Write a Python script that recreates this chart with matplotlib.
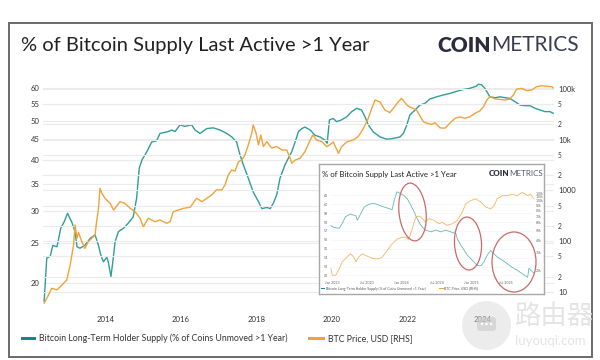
import matplotlib
matplotlib.use('Agg')
import matplotlib.pyplot as plt
from matplotlib.patches import Rectangle, Ellipse, Circle, FancyBboxPatch
from matplotlib.ticker import NullLocator
import matplotlib.transforms as mtrans

plt.rcParams['font.family'] = ['Lato', 'DejaVu Sans']

# ---------------- main chart data ----------------
lth_dates = [2012.38, 2012.45, 2012.54, 2012.61, 2012.72, 2012.82, 2012.91, 2013.00, 2013.11, 2013.20,
             2013.25, 2013.33, 2013.46, 2013.60, 2013.73, 2013.82, 2013.88, 2013.95, 2014.04, 2014.08,
             2014.15, 2014.20, 2014.26, 2014.35, 2014.48, 2014.61, 2014.74, 2014.83, 2014.90, 2014.97,
             2015.10, 2015.23, 2015.36, 2015.45, 2015.67, 2015.76,
             2015.85, 2015.98, 2016.11, 2016.29, 2016.38, 2016.51, 2016.69, 2016.86, 2017.04, 2017.22,
             2017.35, 2017.48, 2017.57, 2017.66, 2017.79, 2017.92, 2018.06, 2018.15, 2018.28, 2018.37,
             2018.45, 2018.54, 2018.63, 2018.76, 2018.85, 2018.94, 2019.03, 2019.12, 2019.21,
             2019.29, 2019.43, 2019.56, 2019.69, 2019.82, 2019.88, 2019.94, 2020.04, 2020.13, 2020.26,
             2020.40, 2020.53, 2020.66, 2020.79, 2020.88, 2020.97, 2021.10, 2021.28, 2021.46, 2021.63,
             2021.81, 2021.90, 2021.99, 2022.07, 2022.21, 2022.34, 2022.47, 2022.60,
             2022.78, 2022.96, 2023.13, 2023.31, 2023.49, 2023.66, 2023.84, 2023.88, 2023.97, 2024.06,
             2024.19, 2024.33, 2024.46, 2024.59, 2024.72, 2024.86, 2024.99, 2025.12, 2025.25, 2025.39,
             2025.52, 2025.65, 2025.78, 2025.87]
lth_values = [18.0, 23.0, 23.2, 24.7, 24.5, 27.2, 28.2, 29.6, 28.2, 26.7,
              24.5, 24.3, 24.7, 25.7, 26.2, 24.7, 23.4, 22.5, 23.1, 22.5,
              20.7, 22.5, 25.2, 26.7, 27.2, 28.0, 29.0, 32.2, 38.2, 40.0,
              41.9, 44.3, 44.6, 46.5, 47.0, 47.4,
              47.0, 48.8, 48.4, 48.8, 47.4, 46.5, 47.8, 48.0, 47.4, 46.5,
              45.6, 44.3, 41.2, 38.9, 36.1, 33.4, 31.6, 30.4, 30.6, 30.4,
              31.3, 32.8, 36.1, 38.9, 40.4, 41.9, 44.3, 47.0, 47.8,
              48.2, 47.4, 46.0, 45.6, 44.8, 44.0, 50.2, 50.6, 49.7, 50.2,
              51.1, 52.6, 53.6, 53.1, 51.1, 48.8, 46.9, 45.6, 45.0, 45.2,
              45.6, 46.5, 48.8, 51.6, 53.1, 54.6, 55.1, 56.5,
              57.2, 57.8, 58.3, 59.0, 59.6, 60.0, 60.8, 61.4, 61.2, 60.0,
              57.2, 56.9, 57.2, 56.9, 56.7, 55.6, 54.6, 54.4, 54.4, 53.6,
              53.1, 52.6, 52.6, 52.1]

price_dates = [2012.38, 2012.45, 2012.58, 2012.72, 2012.85, 2012.98, 2013.07, 2013.16, 2013.20, 2013.25,
               2013.29, 2013.38, 2013.46, 2013.55, 2013.64, 2013.73, 2013.77, 2013.82, 2013.86, 2013.91,
               2013.99, 2014.13, 2014.22, 2014.39, 2014.52, 2014.66, 2014.79, 2014.92, 2015.01, 2015.14,
               2015.32, 2015.45, 2015.63, 2015.72, 2015.80,
               2015.89, 2016.07, 2016.25, 2016.42, 2016.56, 2016.69, 2016.82, 2016.95, 2017.09, 2017.17,
               2017.26, 2017.35, 2017.44, 2017.53, 2017.62, 2017.70, 2017.79, 2017.88, 2017.92, 2017.99,
               2018.06, 2018.12, 2018.19, 2018.28, 2018.41, 2018.54, 2018.68, 2018.81, 2018.90, 2018.94,
               2019.03, 2019.16,
               2019.29, 2019.43, 2019.50, 2019.60, 2019.74, 2019.87, 2019.96, 2020.04, 2020.18, 2020.26,
               2020.40, 2020.57, 2020.70, 2020.84, 2020.97, 2021.06, 2021.15, 2021.28, 2021.41, 2021.54,
               2021.63, 2021.76, 2021.85, 2021.99, 2022.07, 2022.25, 2022.43, 2022.52, 2022.65, 2022.74,
               2022.87, 2023.00, 2023.13, 2023.27, 2023.40, 2023.53, 2023.66, 2023.80, 2023.93, 2024.02,
               2024.11, 2024.19, 2024.33, 2024.46, 2024.59, 2024.72, 2024.81, 2024.90, 2025.03, 2025.17,
               2025.30, 2025.43, 2025.56, 2025.70, 2025.83, 2025.87]
price_values = [6.0, 7.5, 11.8, 11.0, 13.7, 17.2, 34, 84, 208, 114,
                148, 98, 72, 98, 114, 132, 242, 444, 1098, 877,
                700, 557, 410, 600, 557, 444, 381, 283, 193, 283,
                242, 262, 225, 242, 381,
                400, 444, 465, 700, 600, 700, 812, 1025, 1025, 1277,
                2010, 2520, 2400, 3670, 4000, 4980, 7830, 13300, 19400, 14000,
                7830, 12300, 7300, 9100, 6800, 7300, 6240, 6240, 4270, 3410,
                3950, 4270,
                5780, 9820, 12300, 9820, 9100, 7250, 8000, 9000, 5370, 7250,
                9000, 9820, 11400, 16600, 26300, 41300, 60200, 55000, 38300, 34000,
                41000, 55000, 65000, 48000, 44000, 38000, 22400, 21000, 20000, 21500,
                17000, 16800, 21000, 26300, 28000, 26300, 28000, 33000, 37000, 44400,
                60200, 70000, 63000, 62000, 60000, 63000, 75500, 98000, 102000, 92000,
                95000, 110000, 115000, 112000, 110000, 104000]

lth_ticks = [20, 25, 30, 35, 40, 45, 50, 55, 60]
lth_tick_labels = ['20', '25', '30', '35', '40', '45', '50', '55', '60']
price_major_ticks = [10, 100, 1000, 10000, 100000]
price_major_labels = ['10', '100', '1000', '10k', '100k']
price_minor_ticks = [20, 50, 200, 500, 2000, 5000, 20000, 50000]
price_minor_labels = ['2', '5', '2', '5', '2', '5', '2', '5']
year_ticks = [2014, 2016, 2018, 2020, 2022, 2024]
year_labels = ['2014', '2016', '2018', '2020', '2022', '2024']

# ---------------- inset (embedded screenshot) data ----------------
in_lth_dates = [2022.98, 2023.02, 2023.10, 2023.14, 2023.19, 2023.26, 2023.34, 2023.36, 2023.46, 2023.53,
                2023.60, 2023.67, 2023.74, 2023.82, 2023.86, 2023.89, 2023.93, 2023.98, 2024.03, 2024.08,
                2024.13, 2024.18, 2024.22, 2024.26, 2024.30, 2024.34, 2024.42, 2024.49, 2024.56, 2024.63,
                2024.70, 2024.78, 2024.80, 2024.85, 2024.90, 2024.94, 2024.99, 2025.04, 2025.09, 2025.14,
                2025.18, 2025.23, 2025.28, 2025.33, 2025.37, 2025.45, 2025.52, 2025.59, 2025.66, 2025.73,
                2025.81, 2025.83, 2025.88, 2025.90]
in_lth_values = [57.6, 57.4, 57.3, 57.8, 58.6, 58.9, 58.7, 58.2, 59.7, 60.0,
                 60.1, 59.9, 59.7, 59.5, 59.4, 60.4, 61.4, 61.2, 61.0, 60.6,
                 59.9, 59.1, 58.4, 57.8, 57.4, 57.1, 56.9, 57.1, 56.9, 57.1,
                 56.9, 56.7, 56.1, 55.4, 54.8, 54.3, 53.9, 53.5, 53.1, 53.1,
                 53.5, 54.3, 54.8, 54.4, 54.1, 53.7, 53.3, 52.9, 52.6, 52.2,
                 51.8, 52.8, 52.4, 52.3]
in_price_dates = [2022.98, 2023.00, 2023.05, 2023.10, 2023.14, 2023.19, 2023.26, 2023.31, 2023.34, 2023.38,
                  2023.43, 2023.48, 2023.53, 2023.60, 2023.67, 2023.72, 2023.79, 2023.86, 2023.94, 2024.01,
                  2024.06, 2024.10, 2024.15, 2024.20, 2024.25, 2024.30, 2024.34, 2024.39, 2024.46, 2024.54,
                  2024.58, 2024.65, 2024.73, 2024.80, 2024.87, 2024.92, 2024.99, 2025.06, 2025.14, 2025.21,
                  2025.28, 2025.33, 2025.37, 2025.45, 2025.52, 2025.59, 2025.66, 2025.73, 2025.81, 2025.85,
                  2025.90]
in_price_values = [20800, 17900, 17900, 20800, 24300, 26200, 29400, 27300, 24300, 27300,
                   29400, 28300, 27300, 26200, 26200, 27300, 31700, 37000, 41600, 43200,
                   43200, 41000, 52600, 68800, 70400, 66300, 61500, 66300, 63800, 59000,
                   61000, 56900, 59000, 63800, 77000, 93400, 100600, 105000, 97000, 86500,
                   83400, 90000, 105000, 113000, 113000, 117000, 113000, 122000, 113000, 117000,
                   105000]
in_left_ticks = [52, 53, 54, 55, 56, 57, 58, 59, 60, 61]
in_left_labels = ['52', '53', '54', '55', '56', '57', '58', '59', '60', '61']
in_right_ticks = [20000, 30000, 40000, 50000, 60000, 70000, 80000, 90000, 100000, 110000, 120000]
in_right_labels = ['20k', '30k', '40k', '50k', '60k', '70k', '80k', '90k', '100k', '110k', '120k']
in_x_ticks = [2023.0, 2023.5, 2024.0, 2024.5, 2025.0, 2025.5]
in_x_labels = ['Jan 2023', 'Jul 2023', 'Jan 2024', 'Jul 2024', 'Jan 2025', 'Jul 2025']

TEAL = '#2f9e99'
TEAL_DARK = '#17868a'
ORANGE = '#f0a33a'
GRID = '#ebebeb'
TXT = '#333333'

W, H = 600, 360
fig = plt.figure(figsize=(6, 3.6), dpi=100)
fig.patch.set_facecolor('white')


def px_axes(x0, y0, x1, y1):
    return fig.add_axes([x0 / W, 1 - y1 / H, (x1 - x0) / W, (y1 - y0) / H])


# ---------------- main axes ----------------
ax = px_axes(43, 80, 554, 306)
ax.set_zorder(1)
ax.set_yscale('log')
ax.set_ylim(17.53, 62.9)
ax.set_xlim(2012.35, 2025.89)
ax.plot(lth_dates, lth_values, color=TEAL, lw=1.0, zorder=3)
ax.set_yticks(lth_ticks)
ax.set_yticklabels(lth_tick_labels)
ax.yaxis.set_minor_locator(NullLocator())
ax.set_xticks(year_ticks)
ax.set_xticklabels(year_labels)
ax.tick_params(axis='y', length=0, labelsize=5.5, colors=TXT, pad=2.5)
ax.tick_params(axis='x', length=0, labelsize=5.6, colors=TXT, pad=7)
for s in ax.spines.values():
    s.set_visible(False)
ax.grid(axis='y', color=GRID, lw=0.8)
ax.set_axisbelow(True)

axr = ax.twinx()
axr.set_zorder(2)
axr.patch.set_visible(False)
axr.set_yscale('log')
axr.set_ylim(5.30, 149000)
axr.plot(price_dates, price_values, color=ORANGE, lw=1.0, zorder=3)
axr.set_yticks(price_major_ticks)
axr.set_yticklabels(price_major_labels)
axr.set_yticks(price_minor_ticks, minor=True)
axr.set_yticklabels(price_minor_labels, minor=True)
axr.tick_params(which='both', length=0, colors=TXT, pad=3)
axr.tick_params(which='major', labelsize=5.5)
axr.tick_params(which='minor', labelsize=4.8)
for s in axr.spines.values():
    s.set_visible(False)
axr.grid(which='both', axis='y', color=GRID, lw=0.8)
axr.set_axisbelow(True)

# ---------------- inset screenshot ----------------
box = px_axes(319, 164, 544, 294)
box.set_zorder(5)
box.set_xticks([])
box.set_yticks([])
for s in box.spines.values():
    s.set_color('#a8a8a8')
    s.set_linewidth(1.0)

ain = px_axes(330, 190, 534, 279)
ain.set_zorder(6)
ain.patch.set_visible(False)
ain.set_xlim(2022.967, 2025.902)
ain.set_ylim(51.6, 61.6)
ain.plot(in_lth_dates, in_lth_values, color='#63b9b3', lw=0.6)
ain.set_yticks(in_left_ticks)
ain.set_yticklabels(in_left_labels)
ain.set_xticks(in_x_ticks)
ain.set_xticklabels(in_x_labels)
ain.tick_params(length=0, labelsize=2.6, colors='#666666', pad=1.5)
for s in ain.spines.values():
    s.set_visible(False)
ain.grid(axis='y', color='#f2f2f2', lw=0.4)

ainr = ain.twinx()
ainr.set_zorder(7)
ainr.patch.set_visible(False)
ainr.set_yscale('log')
ainr.set_ylim(16400, 128800)
ainr.plot(in_price_dates, in_price_values, color='#f3b65e', lw=0.6)
ainr.set_yticks(in_right_ticks)
ainr.set_yticklabels(in_right_labels)
ainr.yaxis.set_minor_locator(NullLocator())
ainr.tick_params(length=0, labelsize=2.4, colors='#666666', pad=1.5)
for s in ainr.spines.values():
    s.set_visible(False)

# ---------------- overlay (pixel coordinates) ----------------
ov = fig.add_axes([0, 0, 1, 1])
ov.set_zorder(10)
ov.patch.set_visible(False)
ov.set_xlim(0, W)
ov.set_ylim(H, 0)
ov.axis('off')
x_disp_y_data = mtrans.blended_transform_factory(mtrans.IdentityTransform(), ov.transData)

# outer frame
ov.add_patch(Rectangle((8.5, 23), 583.5, 334, fill=False, edgecolor='#6a6a6a', lw=1.4))

# main title and logo
ov.text(21, 45, '% of Bitcoin Supply Last Active >1 Year', fontsize=14.5, color='#222222',
        va='center', ha='left')
t_m = ov.text(579, 45, 'METRICS', fontsize=15, color='#3a3d4f', va='center', ha='right',
              fontweight='normal')
fig.canvas.draw()
bb = t_m.get_window_extent()
t_c = ov.text(bb.x0 - 0.5, 45, 'COIN', fontsize=15, color='#2b2d3f', va='center', ha='right',
              fontweight='heavy')
t_c.set_transform(x_disp_y_data)

# legend
ov.add_patch(Rectangle((21, 336.5), 15, 3.5, color=TEAL_DARK, lw=0))
ov.text(39, 338.5, 'Bitcoin Long-Term Holder Supply (% of Coins Unmoved >1 Year)', fontsize=6.3,
        color=TXT, va='center', ha='left')
ov.add_patch(Rectangle((308, 336.5), 17, 3.5, color=ORANGE, lw=0))
ov.text(328, 338.5, 'BTC Price, USD [RHS]', fontsize=6.3, color=TXT, va='center', ha='left')

# inset title / logo / legend
ov.text(322, 174, '% of Bitcoin Supply Last Active >1 Year', fontsize=5.6, color='#222222',
        va='center', ha='left')
t_im = ov.text(543, 174, 'METRICS', fontsize=5.8, color='#5a5d6f', va='center', ha='right',
               fontweight='normal')
fig.canvas.draw()
bb2 = t_im.get_window_extent()
t_ic = ov.text(bb2.x0 - 0.3, 174, 'COIN', fontsize=5.8, color='#2b2d3f', va='center', ha='right',
               fontweight='heavy')
t_ic.set_transform(x_disp_y_data)

ov.add_patch(Rectangle((320.5, 288), 4.5, 1.3, color=TEAL_DARK, lw=0))
ov.text(326, 288.7, 'Bitcoin Long-Term Holder Supply (% of Coins Unmoved >1 Year)', fontsize=2.5,
        color='#555555', va='center', ha='left')
ov.add_patch(Rectangle((439, 288), 4.5, 1.3, color=ORANGE, lw=0))
ov.text(444.5, 288.7, 'BTC Price, USD [RHS]', fontsize=2.5, color='#555555', va='center', ha='left')

# red ellipses drawn on the inset
for (cx, cy, ew, eh, ang) in [(412.5, 212, 27, 58, -6), (468, 243.5, 27, 53, -3), (514, 262, 44, 60, 0)]:
    ov.add_patch(Ellipse((cx, cy), ew, eh, angle=ang, fill=False, edgecolor='#c96a6a', lw=0.9))

# watermark
ov.add_patch(Circle((486.5, 325.5), 24.5, facecolor='#d6d6d6', alpha=0.45, lw=0))
ov.add_patch(FancyBboxPatch((477, 317), 19, 14, boxstyle='round,pad=0,rounding_size=3',
                            facecolor='#c9c9c9', alpha=0.6, lw=0))
for dx in (-4.5, 0, 4.5):
    ov.add_patch(Circle((486.5 + dx, 324), 1.2, facecolor='white', lw=0))
ov.text(515, 317, '路由器', fontsize=19, color='#e4e4e4', va='center', ha='left',
        family=['Noto Sans CJK SC', 'DejaVu Sans'])
ov.text(515, 341, 'luyouqi.com', fontsize=9.5, color='#e4e4e4', va='center', ha='left')

fig.savefig('out.png', dpi=100, facecolor='white')
